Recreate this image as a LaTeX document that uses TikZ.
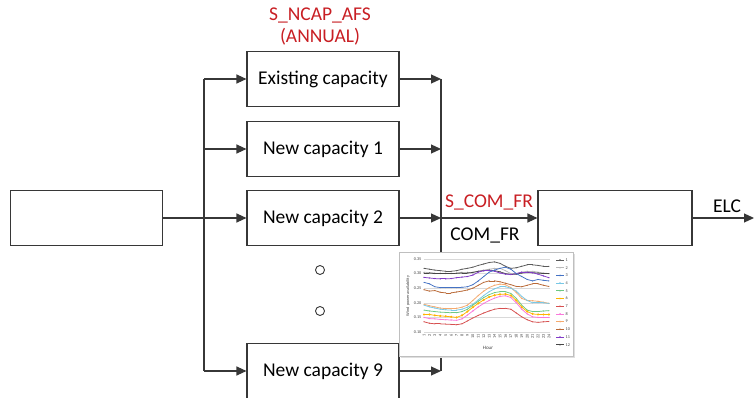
\documentclass[tikz,border=0pt]{standalone}
\usepackage{fontspec}
\setmainfont{Carlito}
\usetikzlibrary{arrows.meta}
\definecolor{lbl}{RGB}{200,30,35}
\definecolor{ln}{RGB}{55,55,55}
\definecolor{sa}{RGB}{90,90,90}
\definecolor{sb}{RGB}{185,185,185}
\definecolor{sc}{RGB}{68,114,196}
\definecolor{sd}{RGB}{120,200,230}
\definecolor{se}{RGB}{110,200,130}
\definecolor{sf}{RGB}{255,180,0}
\definecolor{sg}{RGB}{215,80,80}
\definecolor{sh}{RGB}{250,120,220}
\definecolor{si}{RGB}{245,170,110}
\definecolor{sj}{RGB}{185,105,55}
\definecolor{sk}{RGB}{130,60,200}
\definecolor{sl}{RGB}{70,70,70}
\newcommand\chartseries[3]{%
  \foreach \v [count=\i, remember=\v as \pv (initially 0)] in {#3} {%
    \ifnum\i>1 \draw[#1,line width=0.75pt] ({\i-1},\pv) -- (\i,\v);\fi
    \fill[#1] (\i,\v) circle[radius=#2];
  }%
}
\begin{document}
\begin{tikzpicture}[x=1pt,y=-1pt,font=\fontsize{19.5}{22}\selectfont,
  box/.style={draw=ln,line width=1.1pt,minimum width=152pt,minimum height=55pt,inner sep=0pt},
  conn/.style={draw=ln,line width=1.1pt},
  arr/.style={conn,-{Triangle[length=10pt,width=9pt]}},
  redlbl/.style={text=lbl},
  dot/.style={circle,draw=ln,line width=0.9pt,minimum size=9pt,inner sep=0pt},
  chtxt/.style={font=\fontsize{4.2}{5}\selectfont,text=black!75,inner sep=0.5pt},
  grid/.style={draw=gray!30,line width=0.6pt}]
\useasboundingbox (0,0) rectangle (754,398);

% boxes
\node[box] (L) at (86.5,218) {};
\node[box] (E) at (323,79) {Existing capacity};
\node[box] (N1) at (323,149) {New capacity 1};
\node[box] (N2) at (323,218) {New capacity 2};
\node[box] (N9) at (323,371) {New capacity 9};
\node[box,minimum width=154pt] (R) at (615,218) {};

% labels
\node[redlbl] (t1) at (320,15) {S\_NCAP\_AFS};
\node[redlbl] (t2) at (320,37) {(ANNUAL)};
\node[redlbl] (t3) at (489,202) {S\_COM\_FR};
\node (t4) at (485,235) {COM\_FR};
\node (t5) at (727,206) {ELC};
\node[dot] (c1) at (320,270) {};
\node[dot] (c2) at (320,311) {};

% bus coordinates
\coordinate (lb1) at (204,79);
\coordinate (lb2) at (204,149);
\coordinate (lb9) at (204,371);
\coordinate (rb1) at (441,79);
\coordinate (rb2) at (441,149);
\coordinate (rb3) at (441,218);
\coordinate (rb9) at (441,371);
\coordinate (out) at (754,218);

% connectors
\draw[conn] (lb1) -- (lb9);
\draw[arr] (lb1) -- (E.west);
\draw[arr] (lb2) -- (N1.west);
\draw[arr] (L.east) -- (N2.west);
\draw[arr] (lb9) -- (N9.west);
\draw[conn] (rb1) -- (rb9);
\draw[arr] (E.east) -- (rb1);
\draw[arr] (N1.east) -- (rb2);
\draw[arr] (N2.east) -- (rb3);
\draw[arr] (N9.east) -- (rb9);
\draw[arr] (rb3) -- (R.west);
\draw[arr] (R.east) -- (out);

% chart
\fill[gray!25] (401,254) rectangle (575,358);
\node[draw=gray!50,fill=white,line width=0.6pt,minimum width=174pt,minimum height=104pt,inner sep=0pt] (chart) at (486,304) {};
\foreach \v/\y in {0.10/332,0.15/317.4,0.20/302.8,0.25/288.2,0.30/273.6,0.35/259}{
  \draw[grid] (424,\y) -- (550,\y);
  \node[chtxt,anchor=east] at (422,\y) {\v};
}
\node[chtxt,rotate=90] (ytitle) at (408,296) {Wind power availability};
\foreach \h in {1,...,24}{
  \node[chtxt,rotate=90,anchor=east] at ({418.57+5.43*\h},334) {\h};
}
\node[chtxt,font=\fontsize{5}{6}\selectfont] (xtitle) at (488,348) {Hour};
\begin{scope}[shift={(418.57pt,-361.2pt)},x=5.43pt,y=292pt]
\chartseries{sb}{0.6pt}{0.305,0.303,0.302,0.302,0.302,0.302,0.302,0.305,0.305,0.305,0.308,0.312,0.315,0.318,0.318,0.310,0.300,0.300,0.305,0.308,0.308,0.305,0.302,0.300}
\chartseries{sl}{0.6pt}{0.302,0.302,0.300,0.300,0.300,0.300,0.301,0.302,0.302,0.304,0.308,0.310,0.312,0.310,0.306,0.300,0.297,0.298,0.302,0.304,0.303,0.302,0.300,0.300}
\chartseries{sa}{0.6pt}{0.318,0.315,0.312,0.310,0.308,0.308,0.310,0.315,0.318,0.322,0.328,0.333,0.338,0.340,0.335,0.325,0.318,0.320,0.325,0.330,0.330,0.328,0.325,0.325}
\chartseries{sk}{0.7pt}{0.287,0.285,0.283,0.282,0.282,0.283,0.286,0.288,0.290,0.295,0.305,0.310,0.311,0.308,0.302,0.298,0.297,0.300,0.305,0.305,0.303,0.298,0.292,0.286}
\chartseries{sc}{0.6pt}{0.270,0.265,0.255,0.252,0.252,0.252,0.252,0.253,0.255,0.262,0.275,0.290,0.305,0.312,0.318,0.322,0.315,0.300,0.290,0.280,0.275,0.280,0.277,0.275}
\chartseries{sj}{0.6pt}{0.245,0.240,0.242,0.236,0.234,0.234,0.237,0.240,0.244,0.250,0.260,0.270,0.275,0.275,0.272,0.267,0.262,0.256,0.255,0.260,0.265,0.265,0.260,0.256}
\chartseries{si}{0.7pt}{0.195,0.190,0.186,0.182,0.180,0.180,0.181,0.185,0.192,0.208,0.225,0.240,0.252,0.260,0.264,0.262,0.252,0.235,0.215,0.208,0.207,0.205,0.202,0.198}
\chartseries{sd}{0.6pt}{0.192,0.186,0.182,0.178,0.176,0.175,0.175,0.178,0.185,0.195,0.210,0.225,0.238,0.248,0.255,0.255,0.250,0.240,0.222,0.208,0.200,0.200,0.200,0.198}
\chartseries{se}{0.6pt}{0.175,0.172,0.170,0.168,0.167,0.166,0.166,0.170,0.178,0.192,0.205,0.218,0.228,0.235,0.238,0.238,0.232,0.215,0.192,0.175,0.170,0.170,0.172,0.173}
\chartseries{sf}{1.2pt}{0.160,0.160,0.157,0.155,0.154,0.152,0.150,0.157,0.170,0.185,0.198,0.210,0.220,0.226,0.229,0.230,0.225,0.208,0.185,0.170,0.162,0.160,0.160,0.160}
\chartseries{sh}{0.7pt}{0.150,0.146,0.145,0.143,0.142,0.141,0.140,0.145,0.158,0.172,0.186,0.198,0.208,0.216,0.222,0.224,0.218,0.200,0.178,0.162,0.152,0.150,0.150,0.150}
\chartseries{sg}{0.6pt}{0.135,0.130,0.128,0.128,0.127,0.126,0.125,0.128,0.138,0.148,0.157,0.165,0.172,0.178,0.181,0.181,0.178,0.165,0.152,0.142,0.135,0.133,0.135,0.136}
\end{scope}
% legend
\foreach \c [count=\i] in {sa,sb,sc,sd,se,sf,sg,sh,si,sj,sk,sl}{
  \draw[\c,line width=0.7pt] (556,{260+(\i-1)*7.7}) -- (564,{260+(\i-1)*7.7});
  \fill[\c] (560,{260+(\i-1)*7.7}) circle[radius=0.9pt];
  \node[chtxt,anchor=west] at (565,{260+(\i-1)*7.7}) {\i};
}
\end{tikzpicture}
\end{document}
